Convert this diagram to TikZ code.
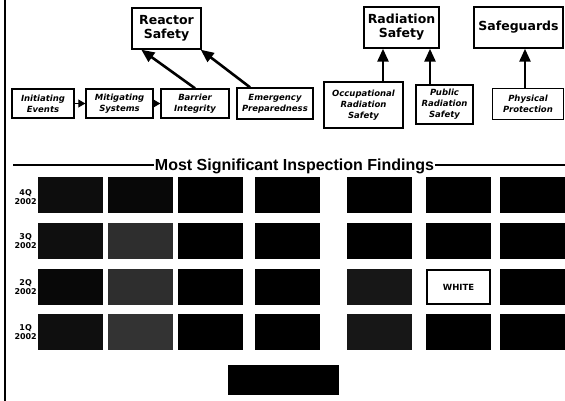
\documentclass[tikz,border=0pt]{standalone}
\usepackage{fontspec}
\setmainfont{Liberation Sans}
\newfontfamily\dvs{DejaVu Sans}
\usetikzlibrary{arrows.meta}
\begin{document}
\begin{tikzpicture}[x=1pt,y=-1pt,
  box/.style={draw,line width=1.4pt,fill=white,inner sep=0pt,align=center},
  topbox/.style={box,font=\dvs\bfseries\fontsize{12.5}{14}\selectfont},
  lowbox/.style={box,font=\dvs\bfseries\itshape\fontsize{8.5}{11}\selectfont},
  bigarrow/.style={line width=2.6pt,-{Triangle[length=13pt,width=11pt]}},
  smallarrow/.style={line width=1pt,-{Triangle[length=7pt,width=8pt]}},
  cell/.style={draw=none,inner sep=0pt,minimum width=65pt,minimum height=36pt,anchor=north west},
  rowlabel/.style={anchor=east,align=center,inner sep=0pt,font=\dvs\bfseries\fontsize{8}{9}\selectfont}]
\useasboundingbox (0,0) rectangle (565,401);

% left border
\coordinate (bt) at (5,0);
\coordinate (bb) at (5,401);
\draw[line width=1.8pt] (bt) -- (bb);

% top boxes
\node[topbox,minimum width=69pt,minimum height=41pt] (reactor) at (166.5,28.5) {Reactor\\Safety};
\node[topbox,minimum width=75pt,minimum height=41pt] (rad) at (401.5,27.5) {Radiation\\Safety};
\node[topbox,minimum width=89pt,minimum height=41pt] (safe) at (518.5,27.5) {Safeguards};

% lower boxes
\node[lowbox,minimum width=62pt,minimum height=29pt] (init) at (43,103.5) {Initiating\\Events};
\node[lowbox,minimum width=67pt,minimum height=29pt] (mit) at (119.5,103.5) {Mitigating\\Systems};
\node[lowbox,minimum width=68pt,minimum height=29pt] (bar) at (195,103.5) {Barrier\\Integrity};
\node[lowbox,minimum width=76pt,minimum height=31pt] (emer) at (275,103.5) {Emergency\\Preparedness};
\node[lowbox,minimum width=79pt,minimum height=46pt] (occ) at (363.5,105) {Occupational\\Radiation\\Safety};
\node[lowbox,minimum width=57pt,minimum height=39pt] (pub) at (444.5,104.5) {Public\\Radiation\\Safety};
\node[lowbox,minimum width=71pt,minimum height=31pt] (phys) at (528,104) {Physical\\Protection};

% small arrows
\draw[smallarrow] (init) -- (mit);
\draw[smallarrow] (mit) -- (bar);

% big arrows
\draw[bigarrow] (bar.north) -- ([xshift=10pt]reactor.south west);
\draw[bigarrow] ([xshift=-25pt]emer.north) -- ([xshift=-1pt]reactor.south east);
\draw[bigarrow] ([xshift=19.5pt]occ.north) -- ([xshift=19.5pt]occ.north |- rad.south);
\draw[bigarrow] ([xshift=-14.5pt]pub.north) -- ([xshift=-14.5pt]pub.north |- rad.south);
\draw[bigarrow] ([xshift=-3pt]phys.north) -- ([xshift=-3pt]phys.north |- safe.south);

% title with rules
\node[anchor=base,inner sep=1pt,font=\bfseries\fontsize{16}{18}\selectfont] (title) at (294.5,171) {Most Significant Inspection Findings};
\coordinate (tl) at (13,165);
\coordinate (tr) at (565,165);
\draw[line width=2.8pt] (tl) -- (tl -| title.west);
\draw[line width=2.8pt] (tr) -- (tr -| title.east);

% row labels
\node[rowlabel] (l4) at (37,197) {4Q\\2002};
\node[rowlabel] (l3) at (37,241) {3Q\\2002};
\node[rowlabel] (l2) at (37,287) {2Q\\2002};
\node[rowlabel] (l1) at (37,332) {1Q\\2002};

% grid cells
\foreach \n/\x/\y/\f in {
  a1/38/177/black!95, a2/108/177/black!97, a3/178/177/black, a4/255/177/black,
  a5/347/177/black, a6/426/177/black, a7/500/177/black,
  b1/38/223/black!94, b2/108/223/black!82, b3/178/223/black, b4/255/223/black,
  b5/347/223/black, b6/426/223/black, b7/500/223/black,
  c1/38/269/black!97, c2/108/269/black!82, c3/178/269/black, c4/255/269/black,
  c5/347/269/black!91, c7/500/269/black,
  d1/38/314/black!94, d2/108/314/black!80, d3/178/314/black, d4/255/314/black,
  d5/347/314/black!91, d6/426/314/black, d7/500/314/black}
  \node[cell,fill=\f] (\n) at (\x,\y) {};

\node[draw,line width=2pt,fill=white,inner sep=0pt,minimum width=63pt,minimum height=34pt,
  font=\dvs\bfseries\fontsize{8.5}{10}\selectfont] (c6) at (458.5,287) {WHITE};

% bottom box
\node[cell,fill=black,minimum width=111pt,minimum height=30pt] (legend) at (228,365) {};
\end{tikzpicture}
\end{document}
